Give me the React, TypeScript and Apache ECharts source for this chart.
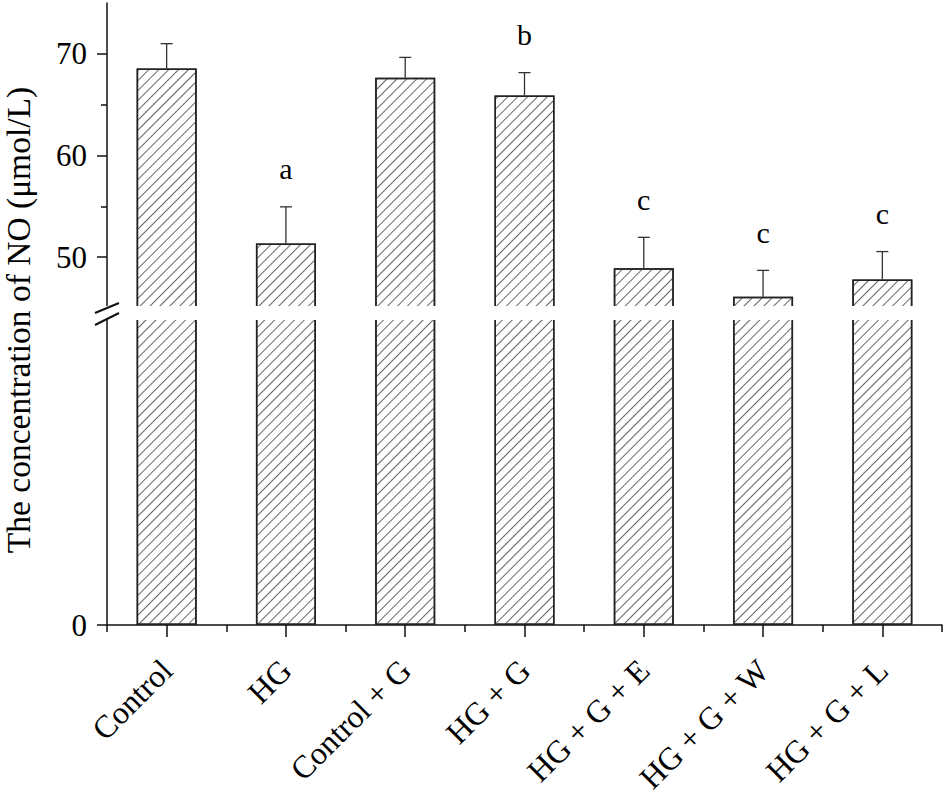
import { useEffect, useRef } from "react";
import * as echarts from "echarts";

const groups = ["Control", "HG", "Control + G", "HG + G", "HG + G + E", "HG + G + W", "HG + G + L"];
const means = [68.55, 51.35, 67.65, 65.9, 48.9, 46.1, 47.8];
const errors = [2.45, 3.6, 2.0, 2.25, 3.05, 2.6, 2.75];
const letters = ["", "a", "", "b", "c", "c", "c"];

// axis ticks
const upperTicks = [50, 60, 70];
const upperMinorTicks = [55, 65];
const lowerTicks = [0];

const FONT = '"Liberation Serif", "Times New Roman", serif';

// layout
const LEFT = 107;
const RIGHT = 4;
const UPPER_TOP = 3;
const UPPER_BOTTOM = 308;
const LOWER_TOP = 318;
const LOWER_BOTTOM = 625;

const hatch = {
  symbol: "rect",
  symbolSize: 1,
  dashArrayX: [1, 0],
  dashArrayY: [1, 6],
  rotation: -Math.PI / 4,
  color: "#666",
};

const App = () => {
  const chartRef = useRef(null);

  useEffect(() => {
    const chart = echarts.init(chartRef.current, null, { renderer: "svg" });

    const barStyle = {
      color: "#fff",
      borderColor: "#222",
      borderWidth: 1.5,
      decal: hatch,
    };
    const axisColor = { color: "#111", width: 1.5 };

    const option: any = {
      animation: false,
      backgroundColor: "#fff",
      textStyle: { fontFamily: FONT },
      grid: [
        { left: LEFT, right: RIGHT, top: UPPER_TOP, height: UPPER_BOTTOM - UPPER_TOP },
        { left: LEFT, right: RIGHT, top: LOWER_TOP, height: LOWER_BOTTOM - LOWER_TOP },
      ],
      xAxis: [
        { gridIndex: 0, type: "category", data: groups, show: false },
        {
          gridIndex: 1,
          type: "category",
          position: "bottom",
          data: groups,
          axisLine: { lineStyle: axisColor },
          axisTick: { show: true, length: 7, lineStyle: axisColor },
          axisLabel: { show: false },
        },
        {
          gridIndex: 1,
          type: "category",
          position: "bottom",
          offset: 0,
          data: groups,
          axisLine: { show: false },
          axisTick: { show: true, alignWithLabel: true, length: 12, lineStyle: axisColor },
          axisLabel: {
            rotate: 45,
            margin: 40,
            color: "#000",
            fontSize: 32,
            fontFamily: FONT,
          },
        },
      ],
      yAxis: [
        {
          gridIndex: 0,
          type: "value",
          position: "left",
          min: 45,
          max: 75,
          axisLine: { show: true, lineStyle: axisColor },
          axisTick: { show: true, customValues: upperTicks, length: 10, lineStyle: axisColor },
          axisLabel: { customValues: upperTicks, margin: 20, color: "#000", fontSize: 31, fontFamily: FONT },
          splitLine: { show: false },
        },
        {
          gridIndex: 0,
          type: "value",
          position: "left",
          offset: 0,
          min: 45,
          max: 75,
          axisLine: { show: false },
          axisTick: { show: true, customValues: upperMinorTicks, length: 6, lineStyle: axisColor },
          axisLabel: { show: false },
          splitLine: { show: false },
        },
        {
          gridIndex: 1,
          type: "value",
          position: "left",
          min: 0,
          max: 45,
          axisLine: { show: true, lineStyle: axisColor },
          axisTick: { show: true, customValues: lowerTicks, length: 10, lineStyle: axisColor },
          axisLabel: { customValues: lowerTicks, margin: 20, color: "#000", fontSize: 31, fontFamily: FONT },
          splitLine: { show: false },
        },
      ],
      series: [
        {
          type: "bar",
          xAxisIndex: 0,
          yAxisIndex: 0,
          data: means,
          barWidth: 60,
          itemStyle: barStyle,
          z: 2,
        },
        {
          type: "bar",
          xAxisIndex: 1,
          yAxisIndex: 2,
          data: means,
          barWidth: 60,
          itemStyle: barStyle,
          z: 2,
        },
        {
          type: "custom",
          xAxisIndex: 0,
          yAxisIndex: 0,
          z: 3,
          data: means.map((m, i) => [i, m, errors[i]]),
          renderItem: (params, api) => {
            const i = api.value(0);
            const m = api.value(1);
            const e = api.value(2);
            const base = api.coord([i, m]);
            const top = api.coord([i, m + e]);
            const stroke = { stroke: "#333", lineWidth: 1.3 };
            const children: any[] = [
              { type: "line", shape: { x1: base[0], y1: base[1], x2: top[0], y2: top[1] }, style: stroke },
              { type: "line", shape: { x1: top[0] - 6, y1: top[1], x2: top[0] + 6, y2: top[1] }, style: stroke },
            ];
            const letter = letters[params.dataIndex];
            if (letter) {
              children.push({
                type: "text",
                style: {
                  text: letter,
                  x: top[0],
                  y: top[1] - 38,
                  textAlign: "center",
                  textVerticalAlign: "middle",
                  font: `30px ${FONT}`,
                  fill: "#000",
                },
              });
            }
            return { type: "group", children };
          },
        },
      ],
      graphic: [
        {
          type: "rect",
          z: 50,
          shape: { x: LEFT - 3, y: UPPER_BOTTOM - 2, width: 946 - LEFT, height: LOWER_TOP - UPPER_BOTTOM + 4 },
          style: { fill: "#fff" },
        },
        {
          type: "line",
          z: 51,
          shape: { x1: LEFT - 12, y1: UPPER_BOTTOM + 5, x2: LEFT + 12, y2: UPPER_BOTTOM - 5 },
          style: { stroke: "#111", lineWidth: 2 },
        },
        {
          type: "line",
          z: 51,
          shape: { x1: LEFT - 12, y1: LOWER_TOP + 7, x2: LEFT + 12, y2: LOWER_TOP - 5 },
          style: { stroke: "#111", lineWidth: 2 },
        },
        {
          type: "text",
          x: 18,
          y: 320,
          rotation: Math.PI / 2,
          style: {
            text: "The concentration of NO (\u03bcmol/L)",
            textAlign: "center",
            textVerticalAlign: "middle",
            font: `33.5px ${FONT}`,
            fill: "#000",
          },
        },
      ],
    };

    chart.setOption(option);

    return () => {
      chart.dispose();
    };
  }, []);

  return (
    <div
      ref={chartRef}
      style={{ position: "fixed", left: 0, top: 0, width: "946px", height: "801px" }}
    />
  );
};

export default App;
